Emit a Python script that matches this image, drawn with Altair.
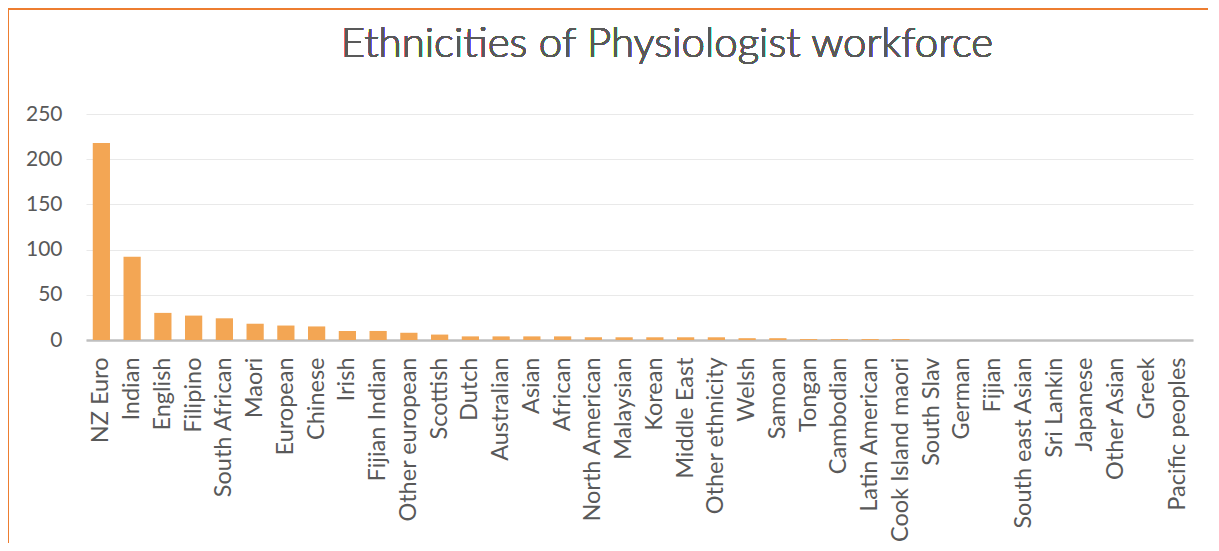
import altair as alt
import pandas as pd

categories = ["NZ Euro", "Indian", "English", "Filipino", "South African", "Maori",
              "European", "Chinese", "Irish", "Fijian Indian", "Other european",
              "Scottish", "Dutch", "Australian", "Asian", "African", "North American",
              "Malaysian", "Korean", "Middle East", "Other ethnicity", "Welsh", "Samoan",
              "Tongan", "Cambodian", "Latin American", "Cook Island maori", "South Slav",
              "German", "Fijian", "South east Asian", "Sri Lankin", "Japanese",
              "Other Asian", "Greek", "Pacific peoples"]
values = [218, 92, 30, 27, 24, 18, 16, 15, 10, 10, 8, 6, 4, 4, 4, 4, 3, 3, 3, 3, 3,
          2, 2, 1, 1, 1, 1, 0, 0, 0, 0, 0, 0, 0, 0, 0]
y_ticks = [0, 50, 100, 150, 200, 250]

df = pd.DataFrame({"ethnicity": categories, "count": values})

FONT = "Lato"
GRAY = "#595959"

bars = alt.Chart(df).mark_bar(color="#F3A654").encode(
    x=alt.X("ethnicity:N", sort=categories, title=None,
            scale=alt.Scale(paddingInner=0.44, paddingOuter=0.22),
            axis=alt.Axis(labelAngle=-90, labelAlign="right", labelBaseline="middle",
                          labelPadding=17, ticks=False, domainColor="#BFBFBF",
                          domainWidth=2.5, labelFontSize=23.5, labelColor=GRAY,
                          labelFont=FONT, grid=False, labelOverlap=False,
                          labelLimit=400)),
    y=alt.Y("count:Q", title=None, scale=alt.Scale(domain=[0, 250], nice=False),
            axis=alt.Axis(values=y_ticks, ticks=False, domain=False, gridColor="#E9E9E9",
                          gridWidth=1.2, labelFontSize=21, labelColor=GRAY,
                          labelFont=FONT, labelPadding=24)),
)

border = alt.Chart(df).mark_rect(fill=None, stroke="#ED7D31", strokeWidth=1.6).encode(
    x=alt.value(-78), x2=alt.value(1300), y=alt.value(-105), y2=alt.value(600)
)

title = alt.Chart(df).mark_text(font=FONT, fontSize=42, fontWeight=300, color=GRAY,
                                align="center", baseline="alphabetic").encode(
    x=alt.value(581), y=alt.value(-57), text=alt.value("Ethnicities of Physiologist workforce")
)

chart = alt.layer(bars, border, title).properties(
    width=1107, height=226,
    autosize=alt.AutoSizeParams(type="none"),
    padding={"left": 78, "top": 106, "right": 15, "bottom": 203},
).configure_view(stroke=None)

chart.save("out.html", embed_options={"renderer": "svg", "actions": False})
